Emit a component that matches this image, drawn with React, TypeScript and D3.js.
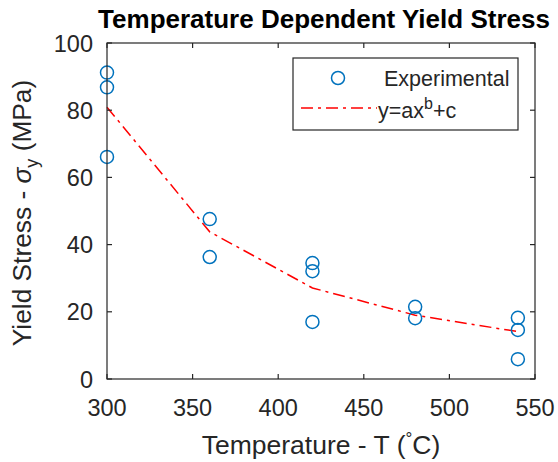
import React, { useEffect, useRef } from 'react';
import * as d3 from 'd3';

const temps = [300, 300, 300, 360, 360, 420, 420, 420, 480, 480, 540, 540, 540];
const stress = [91.2, 86.8, 66.1, 47.6, 36.3, 34.5, 32.1, 17.0, 21.5, 18.1, 18.2, 14.6, 5.9];

const fitTemps = [300, 360, 420, 480, 540];
const fitStress = [80.9, 43.8, 27.1, 19.0, 14.1];

const xTicks = [300, 350, 400, 450, 500, 550];
const yTicks = [0, 20, 40, 60, 80, 100];

const W = 558;
const H = 462;
const margin = { left: 107, right: 23, top: 43, bottom: 83 };
const axisColor = '#262626';
const blue = '#0072BD';
const font = '"Liberation Sans", Arial, Helvetica, sans-serif';

export default function App() {
  const svgRef = useRef<SVGSVGElement>(null);

  useEffect(() => {
    if (!svgRef.current) return;
    const svg = d3.select(svgRef.current);
    svg.selectAll('*').remove();

    const x = d3.scaleLinear().domain([300, 550]).range([margin.left, W - margin.right]);
    const y = d3.scaleLinear().domain([0, 100]).range([H - margin.bottom, margin.top]);
    const [x0, x1] = x.range();
    const [y0, y1] = y.range();

    svg.append('rect').attr('width', W).attr('height', H).attr('fill', '#fff');

    // fit line
    const line = d3.line<number>()
      .x((_, i) => x(fitTemps[i]))
      .y(d => y(d));
    svg.append('path')
      .datum(fitStress)
      .attr('fill', 'none')
      .attr('stroke', '#ff0000')
      .attr('stroke-width', 1.5)
      .attr('stroke-dasharray', '12,5,3,5')
      .attr('d', line);

    // data points
    svg.append('g')
      .selectAll('circle')
      .data(stress)
      .join('circle')
      .attr('cx', (_, i) => x(temps[i]))
      .attr('cy', d => y(d))
      .attr('r', 6.5)
      .attr('fill', 'none')
      .attr('stroke', blue)
      .attr('stroke-width', 1.5);

    // box + ticks
    const ax = svg.append('g').attr('stroke', axisColor).attr('stroke-width', 1.2);
    ax.append('rect')
      .attr('x', x0).attr('y', y1)
      .attr('width', x1 - x0).attr('height', y0 - y1)
      .attr('fill', 'none');
    const tl = 5;
    xTicks.forEach(t => {
      ax.append('line').attr('x1', x(t)).attr('x2', x(t)).attr('y1', y0).attr('y2', y0 - tl);
      ax.append('line').attr('x1', x(t)).attr('x2', x(t)).attr('y1', y1).attr('y2', y1 + tl);
    });
    yTicks.forEach(t => {
      ax.append('line').attr('x1', x0).attr('x2', x0 + tl).attr('y1', y(t)).attr('y2', y(t));
      ax.append('line').attr('x1', x1).attr('x2', x1 - tl).attr('y1', y(t)).attr('y2', y(t));
    });

    const txt = svg.append('g').attr('font-family', font).attr('fill', axisColor);
    txt.selectAll('text.xt')
      .data(xTicks)
      .join('text')
      .attr('class', 'xt')
      .attr('x', d => x(d))
      .attr('y', y0 + 37)
      .attr('text-anchor', 'middle')
      .attr('font-size', 23.5)
      .text(d => d);
    txt.selectAll('text.yt')
      .data(yTicks)
      .join('text')
      .attr('class', 'yt')
      .attr('x', x0 - 14)
      .attr('y', d => y(d) + 8.5)
      .attr('text-anchor', 'end')
      .attr('font-size', 23.5)
      .text(d => d);

    // x label
    const xl = txt.append('text')
      .attr('x', (x0 + x1) / 2)
      .attr('y', 454)
      .attr('text-anchor', 'middle')
      .attr('font-size', 26.5);
    xl.append('tspan').text('Temperature - T (');
    xl.append('tspan').attr('dy', -10).attr('font-size', 17).text('°');
    xl.append('tspan').attr('dy', 10).text('C)');

    // y label
    const yl = txt.append('text')
      .attr('transform', `translate(31,${(y0 + y1) / 2 + 2}) rotate(-90)`)
      .attr('text-anchor', 'middle')
      .attr('font-size', 26.3);
    yl.append('tspan').text('Yield Stress - ');
    yl.append('tspan').attr('font-style', 'italic').text('σ');
    yl.append('tspan').attr('dy', 7).attr('font-size', 18).text('y');
    yl.append('tspan').attr('dy', -7).text(' (MPa)');

    // title
    svg.append('text')
      .attr('x', (x0 + x1) / 2 + 3)
      .attr('y', 28)
      .attr('text-anchor', 'middle')
      .attr('font-family', font)
      .attr('font-weight', 'bold')
      .attr('font-size', 26)
      .attr('fill', '#000')
      .text('Temperature Dependent Yield Stress');

    // legend
    const lg = svg.append('g');
    lg.append('rect')
      .attr('x', 293).attr('y', 58)
      .attr('width', 225).attr('height', 72)
      .attr('fill', '#fff')
      .attr('stroke', axisColor)
      .attr('stroke-width', 1.2);
    lg.append('circle')
      .attr('cx', 338).attr('cy', 78).attr('r', 6.5)
      .attr('fill', 'none').attr('stroke', blue).attr('stroke-width', 1.5);
    lg.append('line')
      .attr('x1', 301).attr('x2', 377).attr('y1', 108).attr('y2', 108)
      .attr('stroke', '#ff0000').attr('stroke-width', 1.5)
      .attr('stroke-dasharray', '12,5,3,5');
    const lt = lg.append('g').attr('font-family', font).attr('font-size', 21.5).attr('fill', axisColor);
    lt.append('text').attr('x', 384).attr('y', 86).text('Experimental');
    const fitLabel = lt.append('text').attr('x', 378).attr('y', 118);
    fitLabel.append('tspan').text('y=ax');
    fitLabel.append('tspan').attr('dy', -9).attr('font-size', 16).text('b');
    fitLabel.append('tspan').attr('dy', 9).text('+c');
  }, []);

  return (
    <svg
      ref={svgRef}
      width={W}
      height={H}
      style={{ position: 'absolute', left: 0, top: 0 }}
    />
  );
}
